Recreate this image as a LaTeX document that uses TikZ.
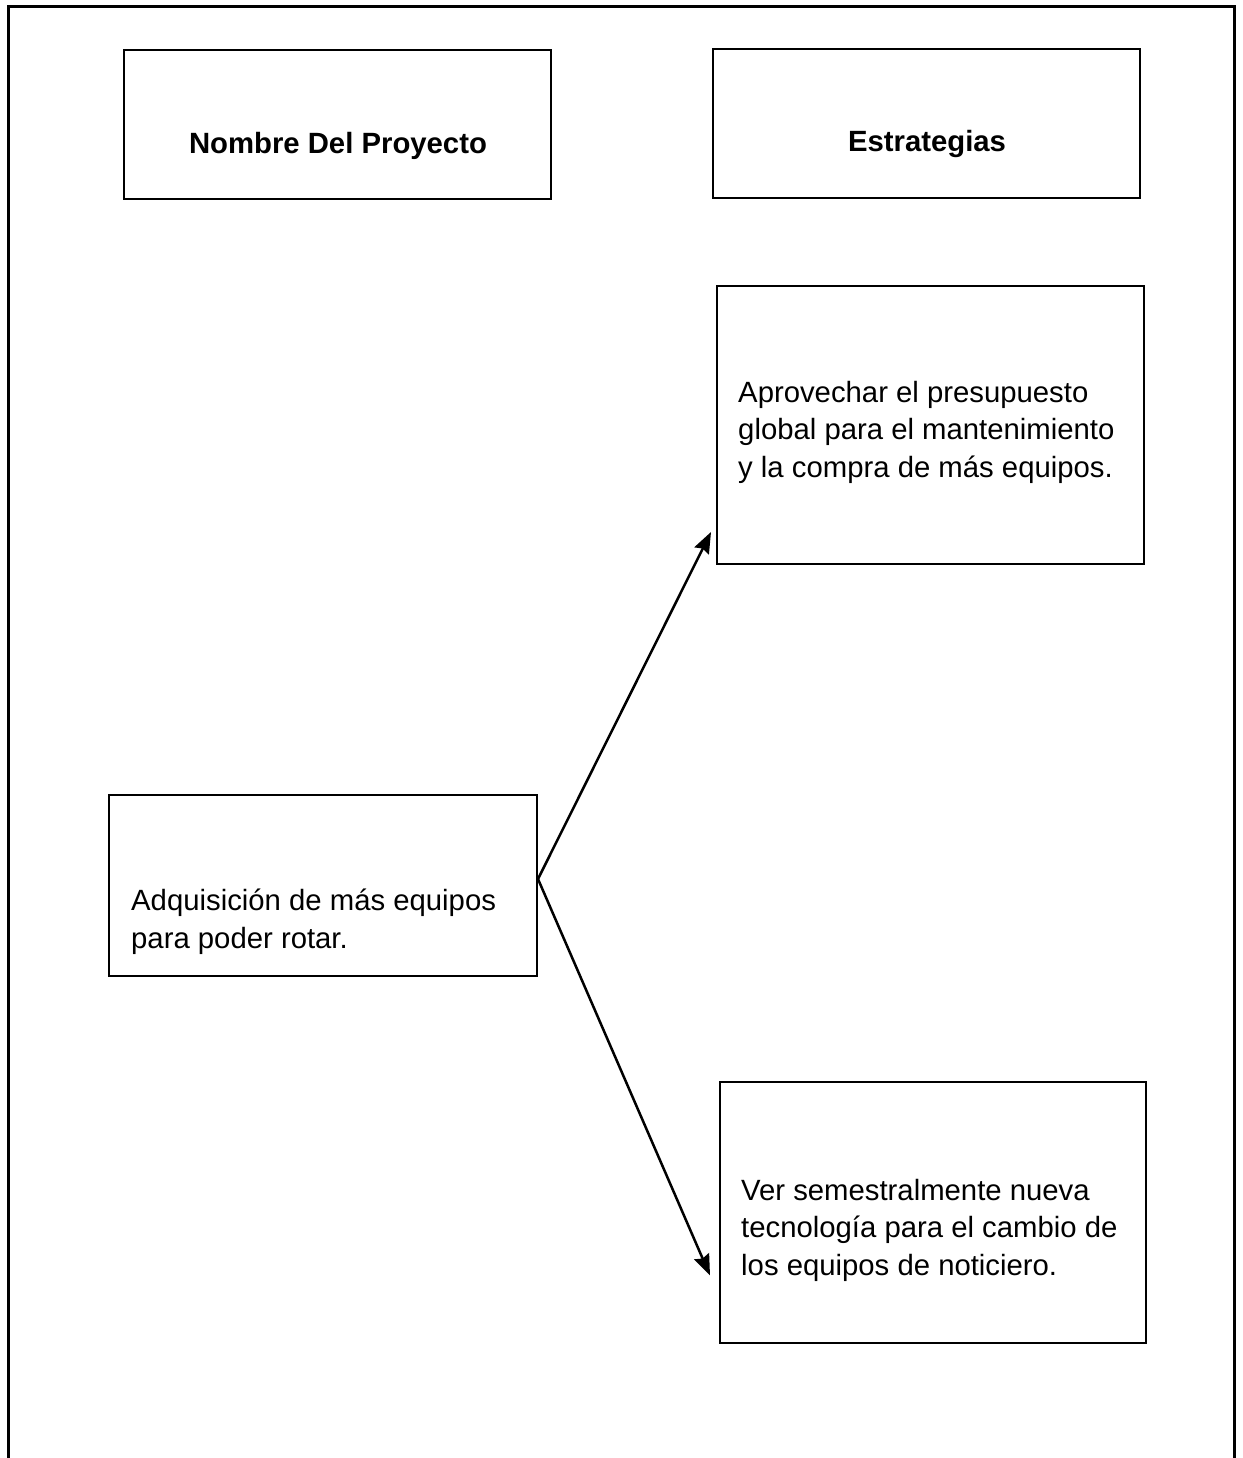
\documentclass[tikz,border=0pt]{standalone}
\usepackage{fontspec}
\setmainfont{Liberation Sans}
\usetikzlibrary{arrows.meta,calc}
\begin{document}
\begin{tikzpicture}[x=1pt,y=-1pt,
  frame/.style={line width=3pt},
  box/.style={draw,line width=2pt,rectangle,inner sep=0pt},
  txt/.style={inner sep=0pt,align=left,font=\fontsize{29.3}{37.5}\selectfont},
  head/.style={inner sep=0pt,font=\fontsize{29.3}{37.5}\selectfont\bfseries},
  link/.style={line width=2.5pt,-{Stealth[length=21pt,width=16pt,inset=2.5pt]}}]
\useasboundingbox (0,0) rectangle (1242,1458);
% outer page frame, open at the bottom
\draw[frame] (8,1460) -- (8,7) -- (1234,7) -- (1234,1460);
% header boxes
\node[box,minimum width=427pt,minimum height=149pt] (hproj) at (337.5,124.5) {};
\node[box,minimum width=427pt,minimum height=149pt] (hstrat) at (926.5,123.5) {};
\node[head,anchor=base] (tproj) at (338,154) {Nombre Del Proyecto};
\node[head,anchor=base] (tstrat) at (927,152) {Estrategias};
% strategy boxes
\node[box,minimum width=427pt,minimum height=278pt] (s1) at (930.5,425) {};
\node[box,minimum width=426pt,minimum height=261pt] (s2) at (933,1212.5) {};
\node[txt,anchor=base west] (t1) at (738,477) {Aprovechar el presupuesto\\global para el mantenimiento\\y la compra de más equipos.};
\node[txt,anchor=base west] (t2) at (741,1275) {Ver semestralmente nueva\\tecnología para el cambio de\\los equipos de noticiero.};
% project box
\node[box,minimum width=428pt,minimum height=181pt] (p) at (323,885.5) {};
\node[txt,anchor=base west] (tp) at (131,948) {Adquisición de más equipos\\para poder rotar.};
% connectors
\coordinate (src) at ($(p.east)+(0,-6.5)$);
\coordinate (d1) at ($(s1.west)+(-5,107)$);
\coordinate (d2) at ($(s2.west)+(-9,63)$);
\draw[link] (src) -- (d1);
\draw[link] (src) -- (d2);
\end{tikzpicture}
\end{document}
